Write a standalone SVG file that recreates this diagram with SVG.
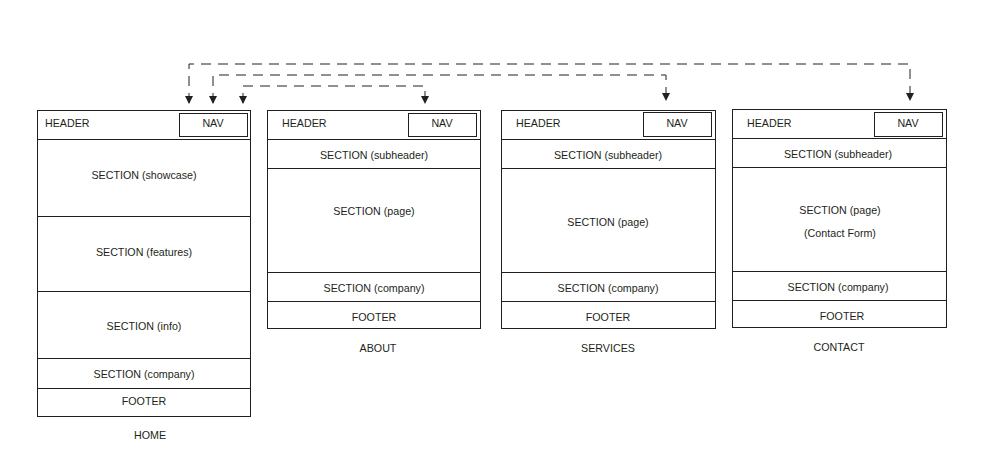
<svg xmlns="http://www.w3.org/2000/svg" width="1000" height="450" viewBox="0 0 1000 450">
<style>
.b{fill:#fff;stroke:#231f20;stroke-width:1}
.t{font-family:"Liberation Sans",Arial,sans-serif;font-size:10.7px;fill:#231f20;text-anchor:middle}
.l{text-anchor:start}
.c{fill:none;stroke:#231f20;stroke-width:1;stroke-dasharray:10,7}
</style>
<defs>
<marker id="ah" markerWidth="8" markerHeight="8" refX="7" refY="4" orient="auto-start-reverse" markerUnits="userSpaceOnUse">
<path d="M0,0 L8,4 L0,8 Z" fill="#231f20"/>
</marker>
</defs>
<rect width="1000" height="450" fill="#fff"/>
<g id="connectors">
<path class="c" d="M189,103 L189,64 L910,64 L910,100" marker-start="url(#ah)" marker-end="url(#ah)"/>
<path class="c" d="M213,103 L213,75 L666,75 L666,100" marker-start="url(#ah)" marker-end="url(#ah)"/>
<path class="c" d="M243,103 L243,86 L425,86 L425,103" marker-start="url(#ah)" marker-end="url(#ah)"/>
</g>
<g id="home">
<rect class="b" x="37.5" y="110.5" width="213" height="306"/>
<path class="b" d="M37.5,139.5 H250.5 M37.5,216.5 H250.5 M37.5,291.5 H250.5 M37.5,358.5 H250.5 M37.5,388.5 H250.5"/>
<rect class="b" x="179.5" y="113.5" width="68" height="23"/>
<text class="t l" x="45" y="127">HEADER</text>
<text class="t" x="213" y="127">NAV</text>
<text class="t" x="144" y="179">SECTION (showcase)</text>
<text class="t" x="144" y="256">SECTION (features)</text>
<text class="t" x="144" y="330">SECTION (info)</text>
<text class="t" x="144" y="378">SECTION (company)</text>
<text class="t" x="144" y="405">FOOTER</text>
<text class="t" x="150" y="439">HOME</text>
</g>
<g id="about">
<rect class="b" x="267.5" y="110.5" width="213" height="218"/>
<path class="b" d="M267.5,139.5 H480.5 M267.5,168.5 H480.5 M267.5,272.5 H480.5 M267.5,301.5 H480.5"/>
<rect class="b" x="408.5" y="113.5" width="68" height="23"/>
<text class="t l" x="282" y="127">HEADER</text>
<text class="t" x="442" y="127">NAV</text>
<text class="t" x="374" y="159">SECTION (subheader)</text>
<text class="t" x="374" y="215">SECTION (page)</text>
<text class="t" x="374" y="292">SECTION (company)</text>
<text class="t" x="374" y="321">FOOTER</text>
<text class="t" x="378" y="352">ABOUT</text>
</g>
<g id="services">
<rect class="b" x="501.5" y="110.5" width="214" height="218"/>
<path class="b" d="M501.5,139.5 H715.5 M501.5,168.5 H715.5 M501.5,272.5 H715.5 M501.5,301.5 H715.5"/>
<rect class="b" x="643.5" y="112.5" width="68" height="24"/>
<text class="t l" x="516" y="127">HEADER</text>
<text class="t" x="677" y="127">NAV</text>
<text class="t" x="608" y="159">SECTION (subheader)</text>
<text class="t" x="608" y="226">SECTION (page)</text>
<text class="t" x="608" y="292">SECTION (company)</text>
<text class="t" x="608" y="321">FOOTER</text>
<text class="t" x="608" y="352">SERVICES</text>
</g>
<g id="contact">
<rect class="b" x="732.5" y="109.5" width="214" height="218"/>
<path class="b" d="M732.5,138.5 H946.5 M732.5,167.5 H946.5 M732.5,271.5 H946.5 M732.5,300.5 H946.5"/>
<rect class="b" x="874.5" y="112.5" width="68" height="24"/>
<text class="t l" x="747" y="127">HEADER</text>
<text class="t" x="908" y="127">NAV</text>
<text class="t" x="838" y="158">SECTION (subheader)</text>
<text class="t" x="840" y="214">SECTION (page)</text>
<text class="t" x="840" y="237">(Contact Form)</text>
<text class="t" x="838" y="291">SECTION (company)</text>
<text class="t" x="842" y="320">FOOTER</text>
<text class="t" x="839" y="351">CONTACT</text>
</g>
</svg>
